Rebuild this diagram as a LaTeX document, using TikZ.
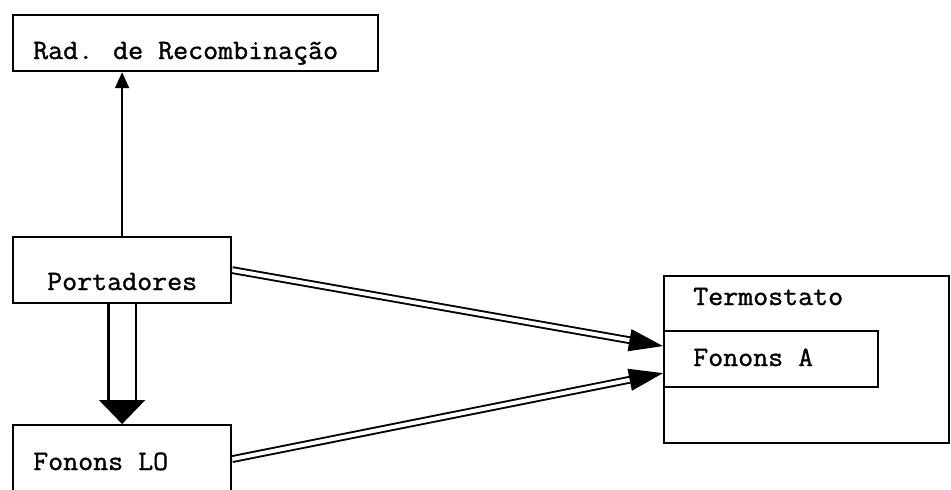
\documentclass[tikz,border=0pt]{standalone}
\usepackage{fontspec}
\newfontfamily\tw{Latin Modern Mono}[FakeStretch=1.04,FakeBold=1.2]
\usetikzlibrary{arrows.meta,calc}
\tikzset{
  box/.style={draw, line width=2.2pt, inner sep=0pt, anchor=north west},
  lbl/.style={inner sep=0pt, anchor=base west, font=\tw\fontsize{28}{32}\selectfont},
  thin arrow/.style={line width=2pt, -{Triangle[length=16pt,width=14pt]}},
  fat arrow/.style={double, double distance=25pt, line width=2.5pt, -{Triangle[length=24pt,width=46pt]}},
  dbl arrow/.style={double, double distance=4pt, line width=1.9pt, -{Triangle[length=34pt,width=22pt]}}
}
\begin{document}
\begin{tikzpicture}[x=1pt,y=-1pt]
  \useasboundingbox (0,0) rectangle (951,490);
  \clip (0,0) rectangle (951,490);

  % boxes
  \node[box, minimum width=365pt, minimum height=56pt] (rad) at (12,14) {};
  \node[box, minimum width=218pt, minimum height=66pt] (port) at (12,236) {};
  \node[box, minimum width=218pt, minimum height=68pt] (lo) at (12,424) {};
  \node[box, minimum width=285pt, minimum height=167pt] (term) at (663,275) {};
  \node[box, minimum width=214pt, minimum height=56pt] (fa) at (663,330) {};

  % labels
  \node[lbl] (radt) at (33,59) {Rad. de Recombinação};
  \node[lbl] (portt) at (47,290) {Portadores};
  \node[lbl] (lot) at (33,470) {Fonons LO};
  \node[lbl] (termt) at (693,305) {Termostato};
  \node[lbl] (fat) at (693,366) {Fonons A};

  % connectors
  \draw[thin arrow] (port.north) -- (port.north |- rad.south);
  \draw[fat arrow] (port.south) -- (lo.north);
  \draw[dbl arrow] (port.east) -- ([yshift=13pt]fa.west);
  \draw[dbl arrow] (lo.east) -- ([yshift=-14pt]fa.west);
\end{tikzpicture}
\end{document}
